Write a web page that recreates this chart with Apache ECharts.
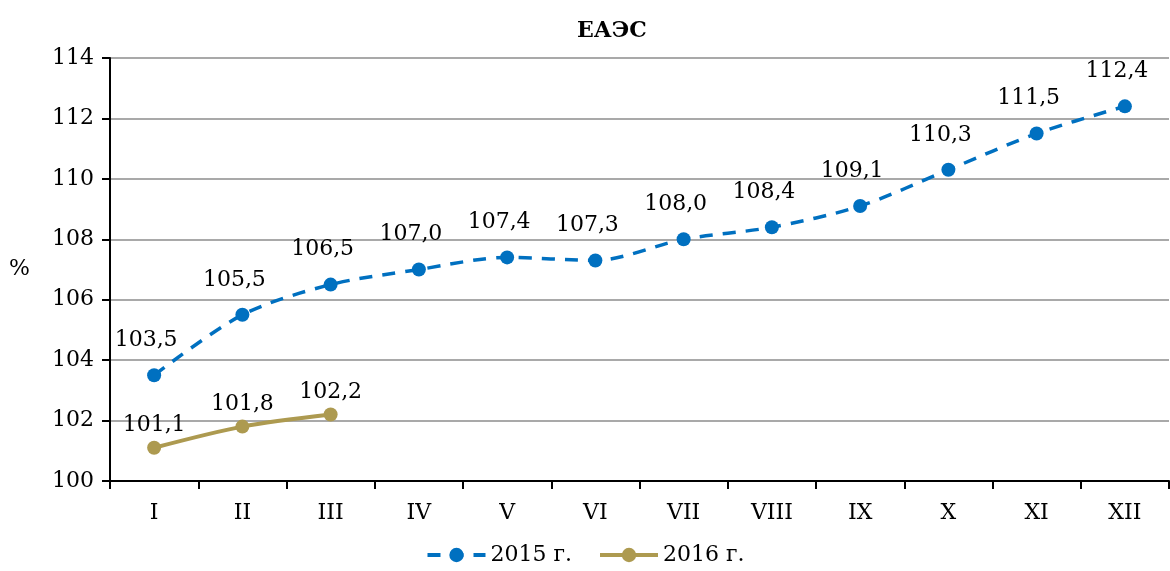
<html>
<head>
    <meta charset="utf-8">
    <title>ЕАЭС</title>
    <script src="https://cdn.jsdelivr.net/npm/echarts@6/dist/echarts.min.js"></script>
</head>
<body style="margin:0">
    <div id="main" style="width:1170px;height:571px;"></div>
    <script type="text/javascript">
        var months = ['I','II','III','IV','V','VI','VII','VIII','IX','X','XI','XII'];
        var y2015 = [103.5, 105.5, 106.5, 107.0, 107.4, 107.3, 108.0, 108.4, 109.1, 110.3, 111.5, 112.4];
        var y2016 = [101.1, 101.8, 102.2];

        var font = 'DejaVu Serif';
        var fmt = function (p) { return p.value.toFixed(1).replace('.', ','); };
        var dash15 = [13, 10];

        var myChart = echarts.init(document.getElementById('main'));
        var option = {
            animation: false,
            textStyle: { fontFamily: font },
            title: {
                text: 'ЕАЭС',
                left: 572,
                top: 15,
                textStyle: { fontFamily: font, fontSize: 22, fontWeight: 'bold', color: '#000' }
            },
            legend: {
                bottom: 0,
                left: 'center',
                itemWidth: 58,
                itemHeight: 18,
                itemGap: 26,
                textStyle: { fontFamily: font, fontSize: 22, color: '#000' },
                data: [
                    { name: '2015 г.', lineStyle: { width: 4, type: dash15 } },
                    { name: '2016 г.', lineStyle: { width: 4 } }
                ]
            },
            grid: { left: 110, right: 1, top: 58, bottom: 90, containLabel: false },
            xAxis: {
                type: 'category',
                boundaryGap: true,
                data: months,
                axisLine: { lineStyle: { color: '#000', width: 2 } },
                axisTick: { show: true, length: 8, lineStyle: { color: '#000', width: 2 } },
                axisLabel: { fontFamily: font, fontSize: 22, color: '#000', margin: 21 }
            },
            yAxis: {
                type: 'value',
                min: 100, max: 114, interval: 2,
                name: '%',
                nameLocation: 'middle',
                nameRotate: 0,
                nameGap: 80,
                nameTextStyle: { fontFamily: font, fontSize: 22, color: '#000' },
                axisLine: { show: true, lineStyle: { color: '#000', width: 2 } },
                axisTick: { show: true, length: 8, lineStyle: { color: '#000', width: 2 } },
                axisLabel: { fontFamily: font, fontSize: 22, color: '#000', margin: 16 },
                splitLine: { lineStyle: { color: '#8c8c8c', width: 1.5 } }
            },
            series: [
                {
                    name: '2015 г.',
                    type: 'line',
                    data: y2015,
                    smooth: 0.3,
                    symbol: 'circle',
                    symbolSize: 14,
                    itemStyle: { color: '#0070C0' },
                    lineStyle: { color: '#0070C0', width: 3.5, type: dash15 },
                    label: { show: true, position: 'top', distance: 17, offset: [-8, 0], formatter: fmt, fontFamily: font, fontSize: 22, color: '#000' }
                },
                {
                    name: '2016 г.',
                    type: 'line',
                    data: y2016,
                    smooth: 0.3,
                    symbol: 'circle',
                    symbolSize: 14,
                    itemStyle: { color: '#AD9A50' },
                    lineStyle: { color: '#AD9A50', width: 4 },
                    label: { show: true, position: 'top', distance: 4, formatter: fmt, fontFamily: font, fontSize: 22, color: '#000' }
                }
            ]
        };
        myChart.setOption(option);
    </script>
</body>
</html>
